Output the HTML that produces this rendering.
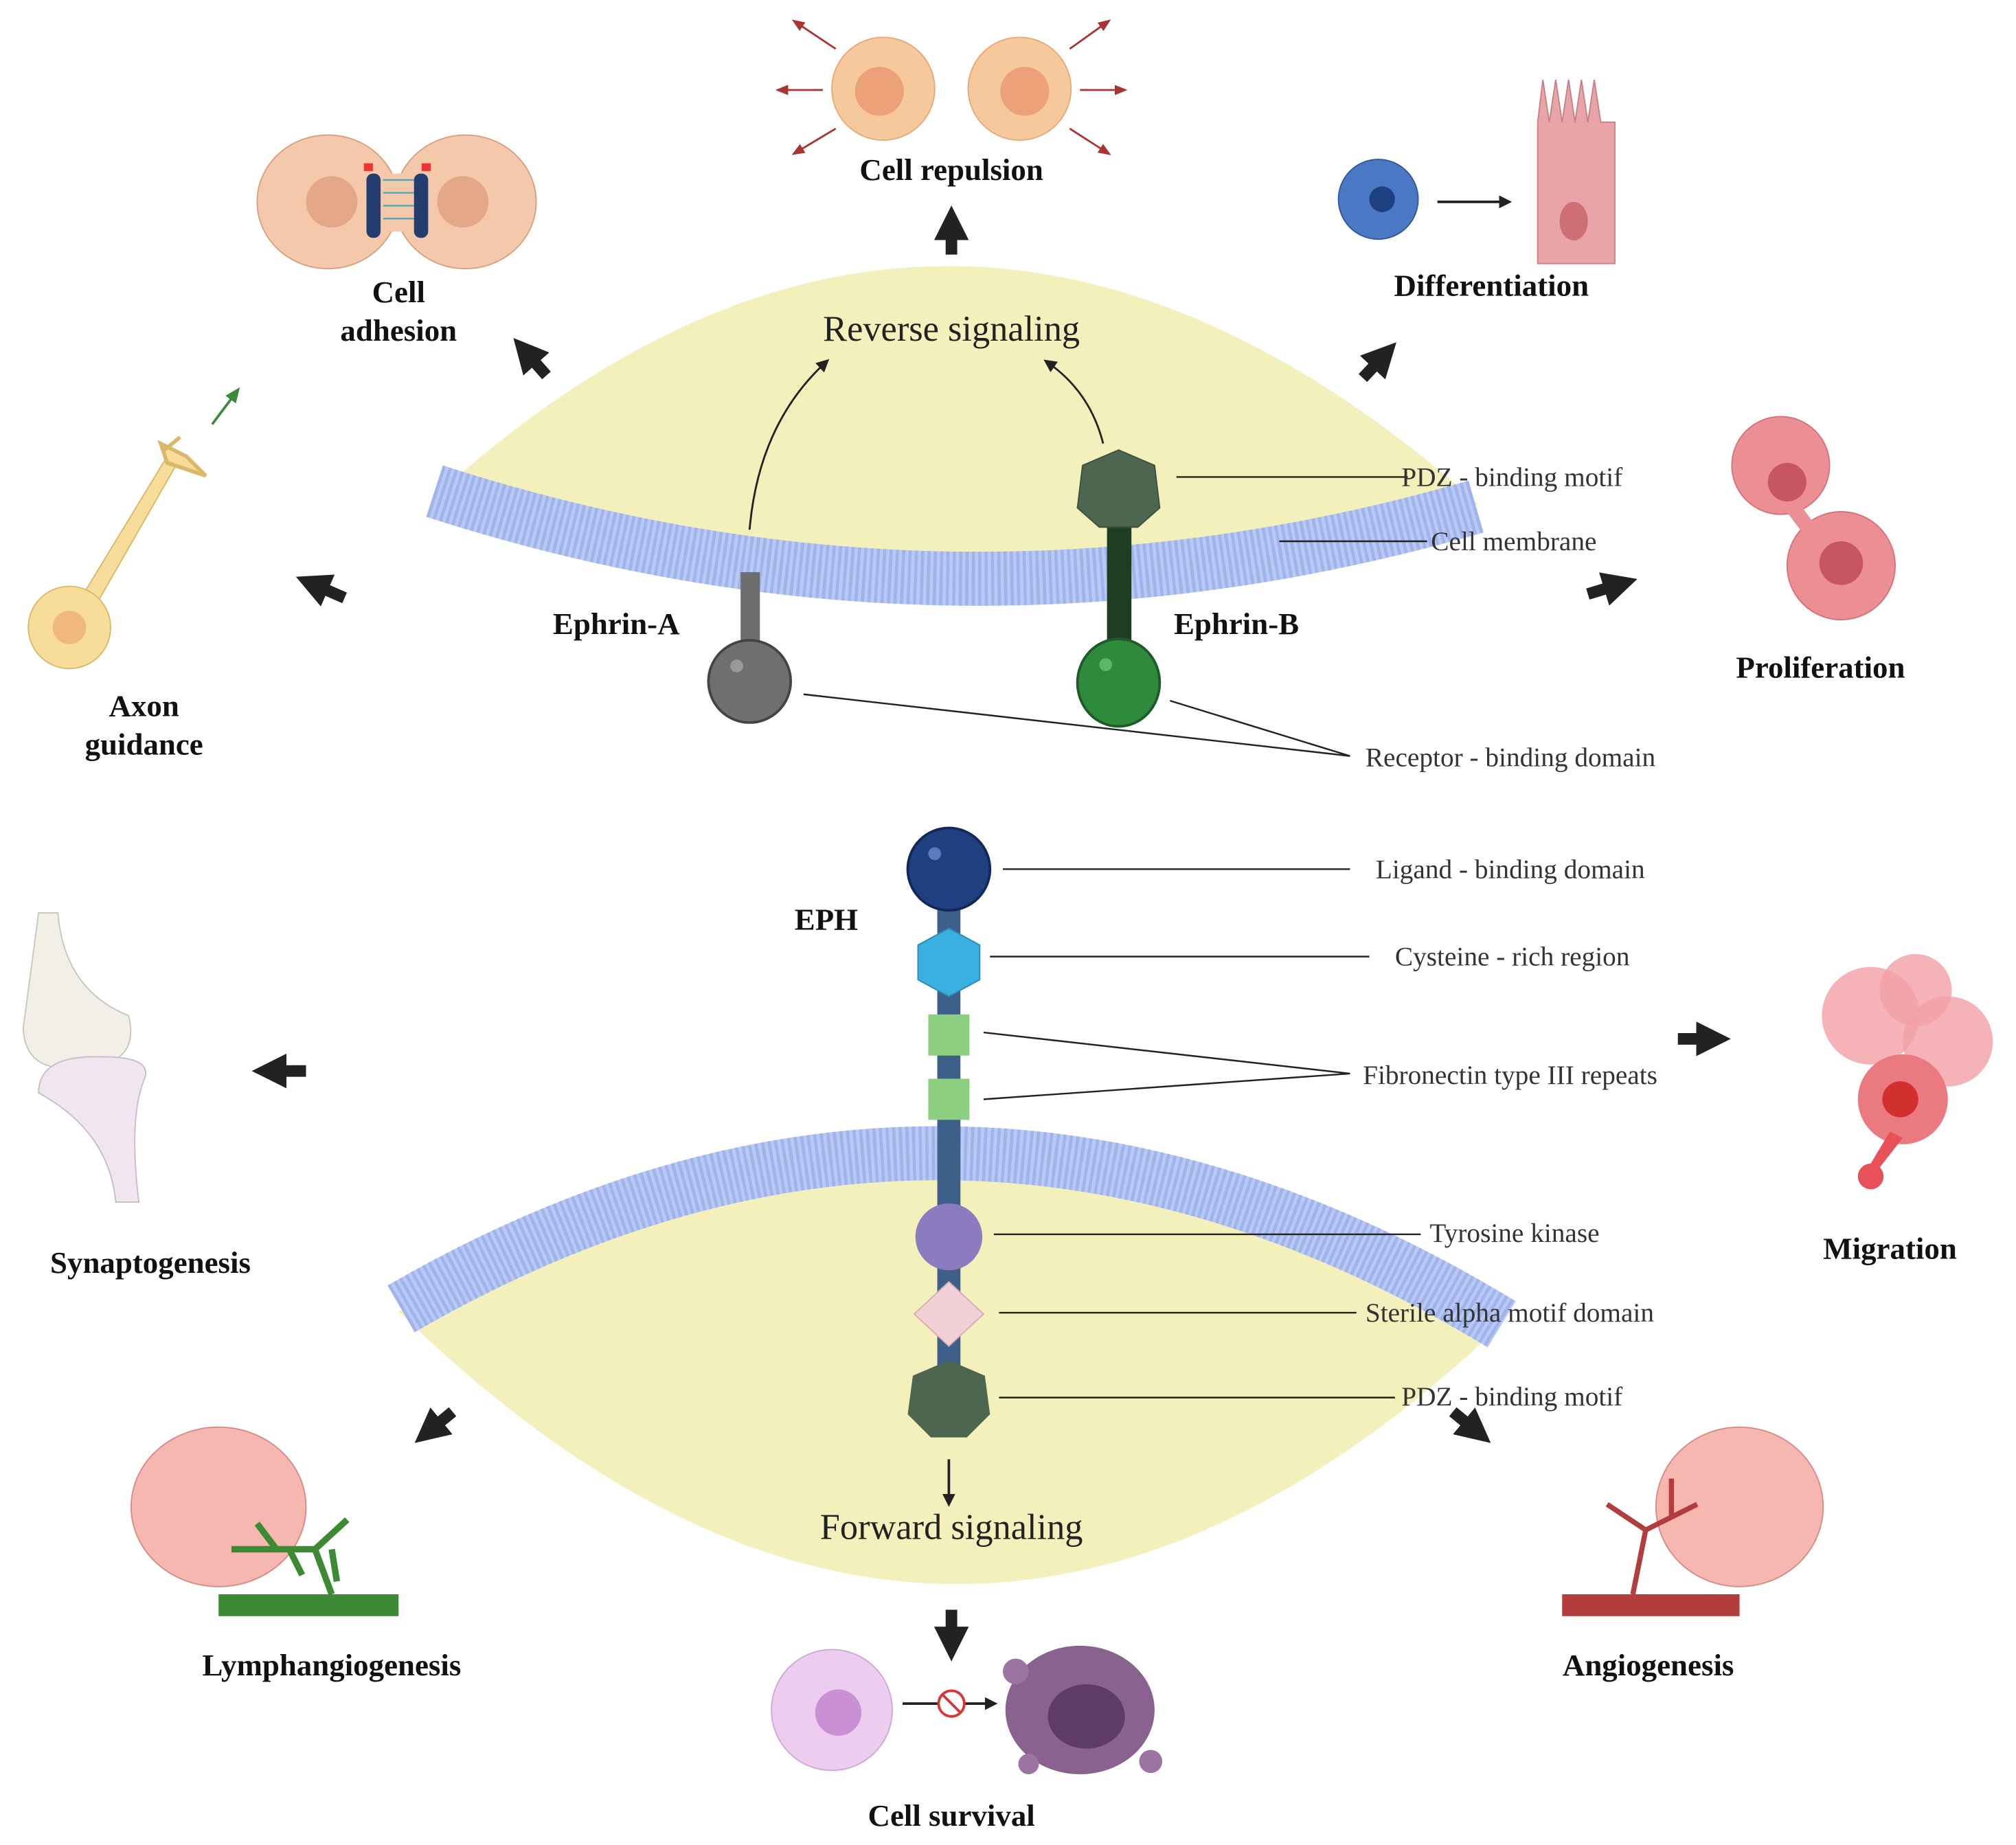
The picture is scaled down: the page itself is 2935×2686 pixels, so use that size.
<!DOCTYPE html>
<html><head><meta charset="utf-8"><style>
html,body{margin:0;padding:0;background:#fff}
svg{display:block}
text{font-family:"Liberation Serif",serif;fill:#222}
.b{font-weight:bold;font-size:24px;fill:#111}
.s{font-size:21px;fill:#333}
</style></head><body>
<svg width="2935" height="2686" viewBox="0 0 1568 1435" xmlns="http://www.w3.org/2000/svg">
<defs>
<marker id="ah" markerWidth="3" markerHeight="3" refX="1.2" refY="1.5" orient="auto"><path d="M0,0 L3,1.5 L0,3 Z" fill="#222"/></marker>
<marker id="th" markerWidth="10" markerHeight="10" refX="6" refY="5" orient="auto" markerUnits="userSpaceOnUse"><path d="M0,0 L10,5 L0,10 Z" fill="#222"/></marker>
<marker id="rh" markerWidth="10" markerHeight="8" refX="5" refY="4" orient="auto" markerUnits="userSpaceOnUse"><path d="M0,0 L10,4 L0,8 Z" fill="#a33"/></marker>
<marker id="gh" markerWidth="12" markerHeight="10" refX="6" refY="5" orient="auto" markerUnits="userSpaceOnUse"><path d="M0,0 L12,5 L0,10 Z" fill="#3a8a3a"/></marker>
</defs>

<!-- top lens -->
<path d="M345,380 Q740,28 1150,392 Q740,512 345,380 Z" fill="#f4f0bc"/>
<path d="M338,382 Q740,512 1148,394" fill="none" stroke="#b9c9f3" stroke-width="42"/>
<path d="M338,382 Q740,512 1148,394" fill="none" stroke="#8ea7e8" stroke-width="42" stroke-dasharray="2.5 2.5" opacity="0.6"/>
<!-- bottom lens -->
<path d="M310,1020 Q740,760 1170,1028 Q740,1440 310,1020 Z" fill="#f4f0bc"/>
<path d="M312,1018 Q740,770 1168,1030" fill="none" stroke="#b9c9f3" stroke-width="42"/>
<path d="M312,1018 Q740,770 1168,1030" fill="none" stroke="#8ea7e8" stroke-width="42" stroke-dasharray="2.5 2.5" opacity="0.6"/>

<text x="740" y="265" font-size="28" text-anchor="middle" fill="#333">Reverse signaling</text>
<text x="740" y="1197" font-size="28" text-anchor="middle" fill="#333">Forward signaling</text>

<path d="M583,412 Q590,330 642,282" fill="none" stroke="#222" stroke-width="1.5" marker-end="url(#th)"/>
<path d="M858,345 Q848,305 815,282" fill="none" stroke="#222" stroke-width="1.5" marker-end="url(#th)"/>

<!-- Ephrin-A -->
<rect x="576" y="445" width="15" height="70" fill="#6e6e6e"/>
<circle cx="583" cy="530" r="32" fill="#6f6f72" stroke="#444" stroke-width="2"/>
<circle cx="573" cy="518" r="5" fill="#999"/>
<text x="430" y="493" class="b" font-size="26">Ephrin-A</text>
<!-- Ephrin-B -->
<rect x="861" y="395" width="19" height="120" fill="#1f3d22"/>
<polygon points="870,350 898,362 902,395 885,410 855,410 838,395 842,362" fill="#4d6650" stroke="#3a5040"/>
<ellipse cx="870" cy="531" rx="32" ry="34" fill="#2e8b3c" stroke="#1f5a28" stroke-width="2"/>
<circle cx="860" cy="517" r="5" fill="#5cb76a"/>
<text x="913" y="493" class="b" font-size="26">Ephrin-B</text>

<!-- EPH -->
<rect x="729" y="680" width="18" height="410" fill="#3d5f8a"/>
<circle cx="738" cy="676" r="32" fill="#1f3f80" stroke="#12285a" stroke-width="2"/>
<circle cx="727" cy="664" r="5" fill="#5b7bc0"/>
<polygon points="738,722 762,735 762,762 738,775 714,762 714,735" fill="#3ab0e0" stroke="#2a8ab8"/>
<rect x="722" y="789" width="32" height="32" fill="#8ccf80"/>
<rect x="722" y="839" width="32" height="32" fill="#8ccf80"/>
<circle cx="738" cy="962" r="26" fill="#8b7cc0"/>
<polygon points="738,997 765,1022 738,1047 711,1022" fill="#f3d0d8" stroke="#d9aab8"/>
<polygon points="738,1058 766,1070 770,1100 752,1118 724,1118 706,1100 710,1070" fill="#4d6650"/>
<text x="618" y="723" class="b" font-size="26">EPH</text>
<line x1="738" y1="1135" x2="738" y2="1168" stroke="#222" stroke-width="2" marker-end="url(#th)"/>

<g stroke="#222" stroke-width="1.3" fill="none">
<line x1="915" y1="371" x2="1095" y2="371"/>
<line x1="995" y1="421" x2="1110" y2="421"/>
<polyline points="625,540 1050,588 910,545"/>
<line x1="780" y1="676" x2="1050" y2="676"/>
<line x1="770" y1="744" x2="1065" y2="744"/>
<polyline points="765,803 1050,835 765,855"/>
<line x1="773" y1="960" x2="1105" y2="960"/>
<line x1="777" y1="1021" x2="1055" y2="1021"/>
<line x1="777" y1="1087" x2="1085" y2="1087"/>
</g>
<text x="1090" y="378" class="s">PDZ - binding motif</text>
<text x="1113" y="428" class="s">Cell membrane</text>
<text x="1062" y="596" class="s">Receptor - binding domain</text>
<text x="1070" y="683" class="s">Ligand - binding domain</text>
<text x="1085" y="751" class="s">Cysteine - rich region</text>
<text x="1060" y="843" class="s">Fibronectin type III repeats</text>
<text x="1112" y="966" class="s">Tyrosine kinase</text>
<text x="1062" y="1028" class="s">Sterile alpha motif domain</text>
<text x="1090" y="1093" class="s">PDZ - binding motif</text>

<g stroke="#222" stroke-width="9" marker-end="url(#ah)">
<line x1="740" y1="198" x2="740" y2="176"/>
<line x1="425" y1="292" x2="410" y2="275"/>
<line x1="1060" y1="294" x2="1075" y2="278"/>
<line x1="268" y1="465" x2="245" y2="455"/>
<line x1="1235" y1="462" x2="1258" y2="455"/>
<line x1="238" y1="833" x2="212" y2="833"/>
<line x1="1305" y1="808" x2="1330" y2="808"/>
<line x1="352" y1="1098" x2="335" y2="1112"/>
<line x1="1130" y1="1098" x2="1147" y2="1112"/>
<line x1="740" y1="1252" x2="740" y2="1276"/>
</g>

<!-- Cell repulsion -->
<circle cx="687" cy="69" r="40" fill="#f6c99c" stroke="#e8a878"/>
<circle cx="684" cy="71" r="19" fill="#eda178"/>
<circle cx="793" cy="69" r="40" fill="#f6c99c" stroke="#e8a878"/>
<circle cx="797" cy="71" r="19" fill="#eda178"/>
<g stroke="#a33" stroke-width="1.5">
<line x1="640" y1="70" x2="608" y2="70" marker-end="url(#rh)"/>
<line x1="650" y1="38" x2="620" y2="18" marker-end="url(#rh)"/>
<line x1="650" y1="100" x2="620" y2="118" marker-end="url(#rh)"/>
<line x1="840" y1="70" x2="872" y2="70" marker-end="url(#rh)"/>
<line x1="832" y1="38" x2="860" y2="18" marker-end="url(#rh)"/>
<line x1="832" y1="100" x2="860" y2="118" marker-end="url(#rh)"/>
</g>
<text x="740" y="140" class="b" text-anchor="middle">Cell repulsion</text>

<!-- Cell adhesion -->
<ellipse cx="255" cy="157" rx="55" ry="52" fill="#f4c8aa" stroke="#d9a080"/>
<ellipse cx="362" cy="157" rx="55" ry="52" fill="#f4c8aa" stroke="#d9a080"/>
<circle cx="258" cy="157" r="20" fill="#e4a888"/>
<circle cx="360" cy="157" r="20" fill="#e4a888"/>
<rect x="290" y="135" width="38" height="45" fill="#f4c8aa"/>
<g stroke="#4ab" stroke-width="1.2"><line x1="298" y1="140" x2="322" y2="140"/><line x1="298" y1="150" x2="322" y2="150"/><line x1="298" y1="160" x2="322" y2="160"/><line x1="298" y1="170" x2="322" y2="170"/></g>
<rect x="285" y="135" width="11" height="50" rx="5" fill="#243d70"/>
<rect x="322" y="135" width="11" height="50" rx="5" fill="#243d70"/>
<rect x="283" y="127" width="7" height="6" fill="#e33"/><rect x="328" y="127" width="7" height="6" fill="#e33"/>
<text x="310" y="235" class="b" text-anchor="middle">Cell</text>
<text x="310" y="265" class="b" text-anchor="middle">adhesion</text>

<!-- Differentiation -->
<circle cx="1072" cy="155" r="31" fill="#4a78c4" stroke="#33589a"/>
<circle cx="1075" cy="155" r="10" fill="#1f4080"/>
<line x1="1118" y1="157" x2="1172" y2="157" stroke="#222" stroke-width="2" marker-end="url(#th)"/>
<path d="M1196,205 L1196,95 L1200,62 L1205,95 L1210,62 L1215,95 L1220,62 L1225,95 L1230,62 L1235,95 L1240,62 L1245,95 L1256,95 L1256,205 Z" fill="#e8a4a6" stroke="#c88086"/>
<ellipse cx="1224" cy="172" rx="11" ry="15" fill="#cf6f74"/>
<text x="1160" y="230" class="b" text-anchor="middle">Differentiation</text>

<!-- Axon guidance -->
<path d="M60,470 L130,355 L138,360 L72,475 Z" fill="#f8dc9a" stroke="#d9b868"/>
<path d="M125,345 L130,360 L160,370 L145,355 Z M128,350 L140,340" fill="#f8dc9a" stroke="#d9b868" stroke-width="3"/>
<circle cx="54" cy="488" r="32" fill="#f8dc9a" stroke="#d9b868"/>
<circle cx="54" cy="488" r="13" fill="#f0b87a"/>
<line x1="165" y1="330" x2="183" y2="306" stroke="#3a8a3a" stroke-width="2" marker-end="url(#gh)"/>
<text x="112" y="557" class="b" text-anchor="middle">Axon</text>
<text x="112" y="587" class="b" text-anchor="middle">guidance</text>

<!-- Proliferation -->
<circle cx="1385" cy="362" r="38" fill="#ec8f94" stroke="#d87078"/>
<circle cx="1432" cy="440" r="42" fill="#ec8f94" stroke="#d87078"/>
<path d="M1395,385 L1420,420 L1410,425 L1385,392 Z" fill="#ec8f94"/>
<circle cx="1390" cy="375" r="15" fill="#c85660"/>
<circle cx="1432" cy="438" r="17" fill="#c85660"/>
<text x="1416" y="527" class="b" text-anchor="middle">Proliferation</text>

<!-- Synaptogenesis -->
<path d="M30,710 L45,710 Q50,770 100,790 Q110,830 60,830 Q20,835 18,800 Z" fill="#f1efe6" stroke="#c8c6bc"/>
<path d="M30,850 Q30,820 80,822 Q120,822 112,840 Q100,870 108,935 L90,935 Q85,880 30,850 Z" fill="#efe6ef" stroke="#c8bccc"/>
<text x="117" y="990" class="b" text-anchor="middle">Synaptogenesis</text>

<!-- Migration -->
<circle cx="1455" cy="790" r="38" fill="#f2a0a6" opacity="0.8"/>
<circle cx="1515" cy="810" r="35" fill="#f2a0a6" opacity="0.8"/>
<circle cx="1490" cy="770" r="28" fill="#f2a0a6" opacity="0.8"/>
<circle cx="1480" cy="855" r="35" fill="#ea7a80"/>
<circle cx="1478" cy="855" r="14" fill="#d0302e"/>
<path d="M1470,880 L1455,905 L1462,908 L1480,885 Z" fill="#ea5058"/>
<circle cx="1455" cy="915" r="10" fill="#ea5058"/>
<text x="1470" y="979" class="b" text-anchor="middle">Migration</text>

<!-- Lymphangiogenesis -->
<ellipse cx="170" cy="1172" rx="68" ry="62" fill="#f6b7b0" stroke="#d88a84"/>
<rect x="170" y="1240" width="140" height="17" fill="#3d8a34"/>
<path d="M258,1240 L245,1205 M245,1205 L180,1205 M245,1205 L270,1182 M215,1205 L200,1185 M225,1205 L235,1225 M258,1205 L262,1230" stroke="#3d8a34" stroke-width="5" fill="none"/>
<text x="258" y="1303" class="b" text-anchor="middle">Lymphangiogenesis</text>

<!-- Angiogenesis -->
<ellipse cx="1353" cy="1172" rx="65" ry="62" fill="#f6b7b0" stroke="#d88a84"/>
<rect x="1215" y="1240" width="138" height="17" fill="#b33c3c"/>
<path d="M1270,1240 L1280,1190 M1280,1190 L1320,1170 M1280,1190 L1250,1170 M1300,1180 L1300,1150" stroke="#b33c3c" stroke-width="4" fill="none"/>
<text x="1282" y="1303" class="b" text-anchor="middle">Angiogenesis</text>

<!-- Cell survival -->
<circle cx="647" cy="1330" r="47" fill="#eccdf0" stroke="#cfa8d6"/>
<circle cx="652" cy="1332" r="18" fill="#c990d4"/>
<line x1="702" y1="1325" x2="772" y2="1325" stroke="#222" stroke-width="2" marker-end="url(#th)"/>
<circle cx="740" cy="1325" r="10" fill="#fff" stroke="#d33" stroke-width="2"/>
<line x1="733" y1="1318" x2="747" y2="1332" stroke="#d33" stroke-width="2"/>
<ellipse cx="840" cy="1330" rx="58" ry="50" fill="#8a6290"/>
<ellipse cx="845" cy="1335" rx="30" ry="25" fill="#5f3c66"/>
<circle cx="790" cy="1300" r="10" fill="#9b74a2"/><circle cx="895" cy="1370" r="9" fill="#9b74a2"/><circle cx="800" cy="1372" r="8" fill="#9b74a2"/>
<text x="740" y="1420" class="b" text-anchor="middle">Cell survival</text>
</svg>
</body></html>
